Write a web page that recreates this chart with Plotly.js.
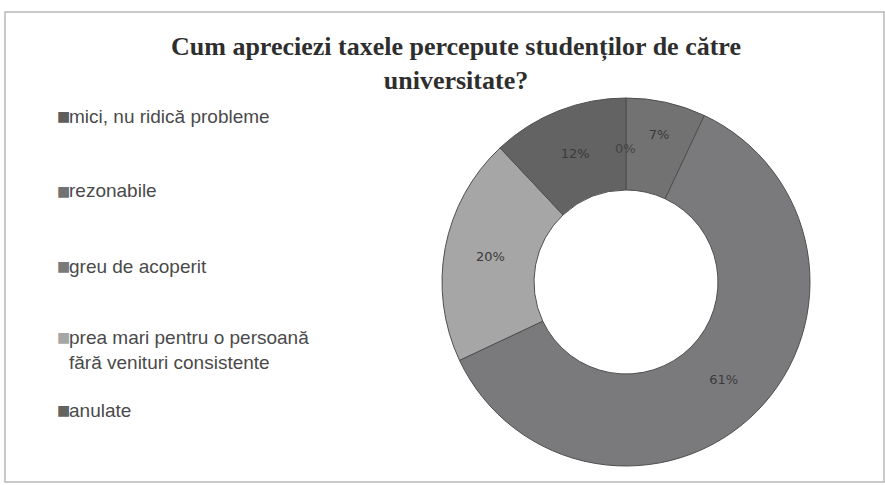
<!DOCTYPE html>
<html>
<head>
<meta charset="utf-8">
<script src="https://cdn.plot.ly/plotly-3.0.1.min.js"></script>
<style>html,body{margin:0;padding:0;background:#ffffff;} #chart{width:885px;height:485px;}</style>
</head>
<body>
<div id="chart"></div>
<script>
const categories = ["mici, nu ridică probleme", "rezonabile", "greu de acoperit", "prea mari pentru o persoană<br>fără venituri consistente", "anulate"];
const values = [0, 7, 61, 20, 12];
const sliceColors = ["#5e5e5e", "#727272", "#7a7a7c", "#a6a6a6", "#636363"];
const chartTitle = "Cum apreciezi taxele percepute studenților de către<br>universitate?";

const W = 885, H = 485;
const px = x => x / W;
const py = y => 1 - y / H;

// legend rows (pixel y of marker center)
const legendY = [116, 191, 266, 337, 410];

const annotations = [];
categories.forEach((c, i) => {
  annotations.push({
    xref: 'paper', yref: 'paper', x: px(55), y: py(legendY[i]),
    xanchor: 'left', yanchor: 'middle', showarrow: false,
    text: '■', font: {family: 'DejaVu Sans', size: 14, color: sliceColors[i]}
  });
  const multi = c.indexOf('<br>') >= 0;
  annotations.push({
    xref: 'paper', yref: 'paper', x: px(67), y: py(multi ? legendY[i] - 12 : legendY[i]),
    xanchor: 'left', yanchor: multi ? 'top' : 'middle', showarrow: false, align: 'left',
    text: c, font: {family: 'Liberation Sans', size: 19, color: '#4a4a4a'}
  });
});
// zero-valued slice label (Plotly does not draw zero-size slices)
annotations.push({
  xref: 'paper', yref: 'paper', x: px(625), y: py(148), xanchor: 'center', yanchor: 'middle', showarrow: false,
  text: Math.round(values[0]) + '%', font: {family: 'DejaVu Sans', size: 13, color: '#444'}
});

const data = [{
  type: 'pie',
  labels: categories,
  values: values,
  sort: false,
  direction: 'clockwise',
  rotation: 0,
  hole: 0.5,
  marker: {colors: sliceColors, line: {color: '#4f4f4f', width: 1}},
  textinfo: 'percent',
  texttemplate: '%{percent:.0%}',
  textposition: 'inside',
  insidetextorientation: 'horizontal',
  textfont: {family: 'DejaVu Sans', size: 13, color: '#3a3a3a'},
  showlegend: false,
  domain: {x: [px(442), px(810)], y: [py(466), py(98)]}
}];

const layout = {
  width: W, height: H,
  margin: {l: 0, r: 0, t: 0, b: 0},
  paper_bgcolor: '#ffffff',
  title: {
    text: chartTitle,
    font: {family: 'Liberation Serif', size: 26, color: '#2e2e2e', weight: 'bold'},
    x: px(456), xanchor: 'center', y: py(55), yanchor: 'top'
  },
  showlegend: false,
  annotations: annotations,
  shapes: [{
    type: 'rect', xref: 'paper', yref: 'paper',
    x0: px(5), x1: px(884), y0: py(482), y1: py(12),
    line: {color: '#b8b8b8', width: 1.5}, fillcolor: 'rgba(0,0,0,0)'
  }]
};

Plotly.newPlot('chart', data, layout, {displayModeBar: false, staticPlot: true});
</script>
</body>
</html>
